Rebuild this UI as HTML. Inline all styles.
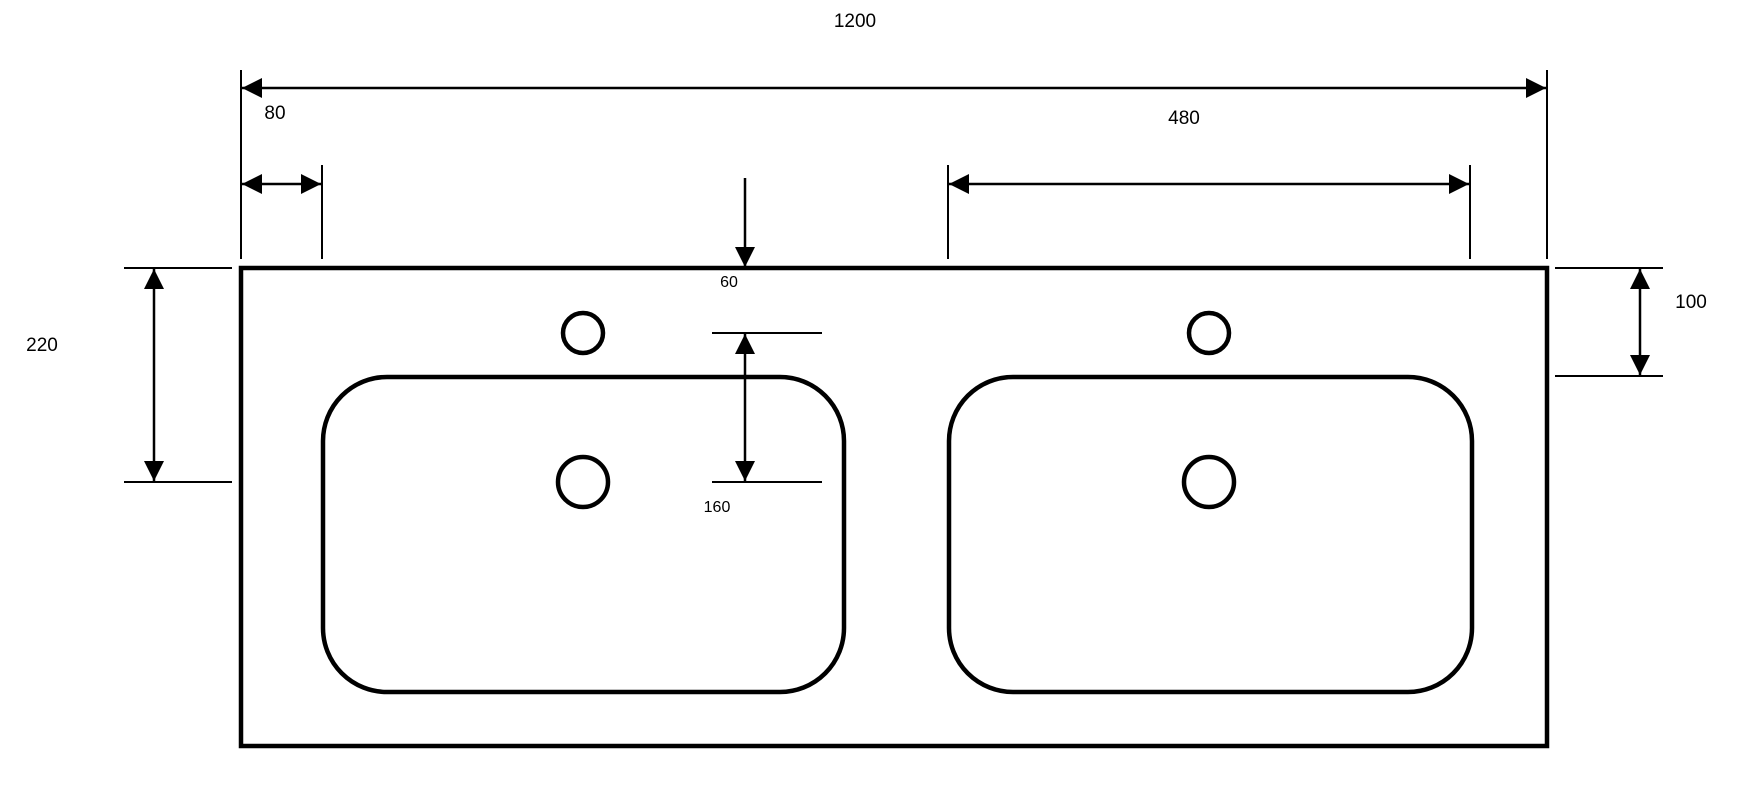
<!DOCTYPE html>
<html><head><meta charset="utf-8"><style>
html,body{margin:0;padding:0;background:#fff;}
svg{display:block;}
text{font-family:"Liberation Sans",sans-serif;fill:#000;}
</style></head><body>
<svg width="1751" height="785" viewBox="0 0 1751 785" xmlns="http://www.w3.org/2000/svg">
<defs>
<marker id="a" viewBox="0 0 10 10" refX="10" refY="5" markerWidth="22" markerHeight="20" markerUnits="userSpaceOnUse" orient="auto-start-reverse">
<path d="M0,0 L10,5 L0,10 z" fill="#000"/></marker>
</defs>
<g stroke="#000" stroke-width="2" fill="none">
<!-- extension lines -->
<line x1="241" y1="70" x2="241" y2="259"/>
<line x1="1547" y1="70" x2="1547" y2="259"/>
<line x1="322" y1="165" x2="322" y2="259"/>
<line x1="948" y1="165" x2="948" y2="259"/>
<line x1="1470" y1="165" x2="1470" y2="259"/>
<line x1="124" y1="268" x2="232" y2="268"/>
<line x1="124" y1="482" x2="232" y2="482"/>
<line x1="1555" y1="268" x2="1663" y2="268"/>
<line x1="1555" y1="376" x2="1663" y2="376"/>
<line x1="712" y1="333" x2="822" y2="333"/>
<line x1="712" y1="482" x2="822" y2="482"/>
<!-- dimension lines -->
<line x1="242" y1="88" x2="1546" y2="88" stroke-width="2.5" marker-start="url(#a)" marker-end="url(#a)"/>
<line x1="242" y1="184" x2="321" y2="184" stroke-width="2.5" marker-start="url(#a)" marker-end="url(#a)"/>
<line x1="949" y1="184" x2="1469" y2="184" stroke-width="2.5" marker-start="url(#a)" marker-end="url(#a)"/>
<line x1="745" y1="178" x2="745" y2="267" stroke-width="2.5" marker-end="url(#a)"/>
<line x1="745" y1="334" x2="745" y2="481" stroke-width="2.5" marker-start="url(#a)" marker-end="url(#a)"/>
<line x1="154" y1="269" x2="154" y2="481" stroke-width="2.5" marker-start="url(#a)" marker-end="url(#a)"/>
<line x1="1640" y1="269" x2="1640" y2="375" stroke-width="2.5" marker-start="url(#a)" marker-end="url(#a)"/>
</g>
<g stroke="#000" stroke-width="4.5" fill="none">
<rect x="241" y="268" width="1306" height="478"/>
<rect x="323" y="377" width="521" height="315" rx="64" ry="64"/>
<rect x="949" y="377" width="523" height="315" rx="64" ry="64"/>
<circle cx="583" cy="333" r="20"/>
<circle cx="583" cy="482" r="25"/>
<circle cx="1209" cy="333" r="20"/>
<circle cx="1209" cy="482" r="25"/>
</g>
<g font-size="19" text-anchor="middle">
<text x="855" y="27">1200</text>
<text x="275" y="119">80</text>
<text x="1184" y="124">480</text>
<text x="729" y="287" font-size="16">60</text>
<text x="717" y="512" font-size="16">160</text>
<text x="42" y="351">220</text>
<text x="1691" y="308">100</text>
</g>
</svg>
</body></html>
